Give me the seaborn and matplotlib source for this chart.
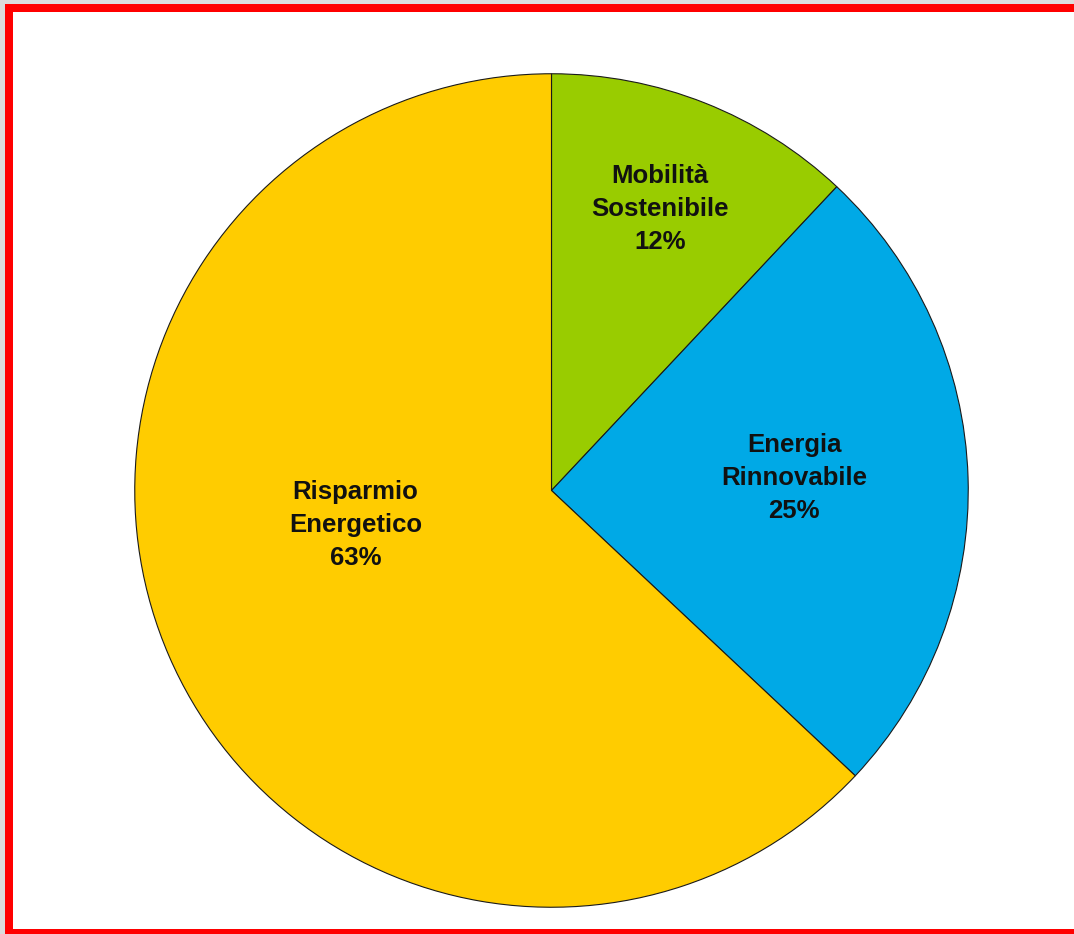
import matplotlib
matplotlib.use("Agg")
import matplotlib.pyplot as plt
from matplotlib.patches import Rectangle
import seaborn as sns

sns.set_theme(style="white")
plt.rcParams["font.family"] = ["Liberation Sans", "DejaVu Sans"]

categories = ["Mobilità\nSostenibile", "Energia\nRinnovabile", "Risparmio\nEnergetico"]
shares = [12, 25, 63]
colors = ["#99CC00", "#00A9E6", "#FFCC00"]
# label anchor points in axes units (pie radius = 1)
label_xy = [(0.261, 0.675), (0.582, 0.03), (-0.47, -0.083)]

W, H = 1074, 934
fig = plt.figure(figsize=(W / 100, H / 100), dpi=100)
fig.patch.set_facecolor("#DCDCDC")

# red frame with white page
fig.patches.append(Rectangle((5 / W, -20 / H), 1.2, (930 + 20) / H,
                             transform=fig.transFigure, facecolor="#FF0000",
                             edgecolor="none", zorder=-2))
fig.patches.append(Rectangle((13 / W, 5 / H), 1.2, (922 - 5) / H,
                             transform=fig.transFigure, facecolor="white",
                             edgecolor="none", zorder=-1))

cx, cy, r = 551.5, 934 - 490.5, 418
ax = fig.add_axes([(cx - r) / W, (cy - r) / H, 2 * r / W, 2 * r / H])
ax.set_facecolor("none")
ax.set_zorder(1)

wedges, _ = ax.pie(shares, colors=colors, startangle=90, counterclock=False,
                   radius=1.0,
                   wedgeprops=dict(edgecolor="#1a1a1a", linewidth=0.8))
ax.set_xlim(-1.003, 1.003)
ax.set_ylim(-1.003, 1.003)
ax.set_aspect("equal")
ax.axis("off")

for name, val, (x, y) in zip(categories, shares, label_xy):
    ax.text(x, y, f"{name}\n{val}%", ha="center", va="center",
            fontsize=18.5, fontweight="bold", color="#111111",
            linespacing=1.47)

fig.savefig("out.png", dpi=100)
